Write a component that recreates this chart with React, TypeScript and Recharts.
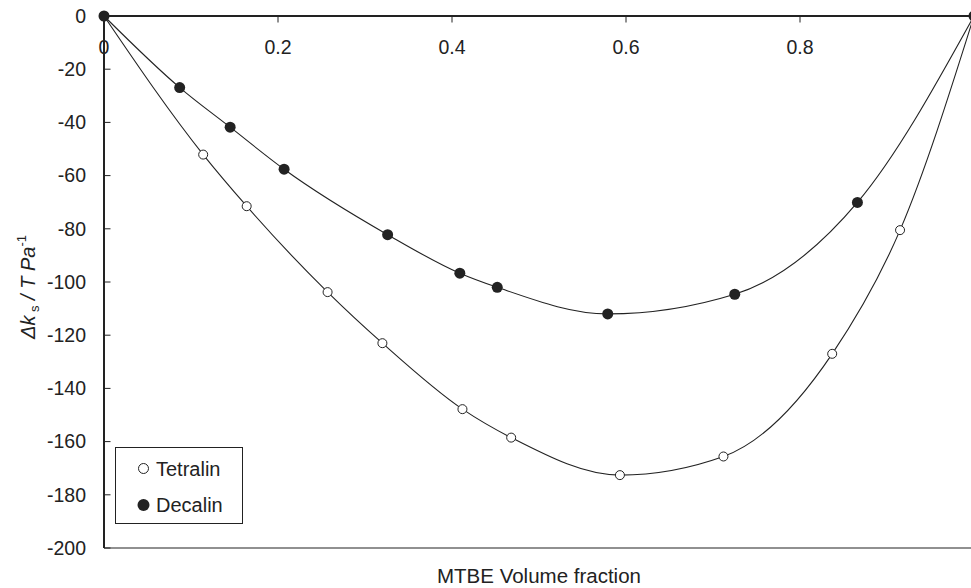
import React from 'react';
import { ComposedChart, Line, XAxis, YAxis } from 'recharts';

// MTBE volume fraction vs deviation in isentropic compressibility
const tetralinX = [0, 0.114, 0.164, 0.257, 0.32, 0.412, 0.468, 0.593, 0.712, 0.837, 0.915, 1];
const tetralinY = [0, -52.1, -71.5, -103.8, -123.0, -147.8, -158.5, -172.6, -165.6, -127.0, -80.5, 0];

const decalinX = [0, 0.087, 0.145, 0.207, 0.326, 0.409, 0.452, 0.579, 0.725, 0.866, 1];
const decalinY = [0, -26.9, -41.8, -57.6, -82.2, -96.7, -102.0, -112.0, -104.6, -70.1, 0];

const xTicks = [0, 0.2, 0.4, 0.6, 0.8];
const yTicks = [0, -20, -40, -60, -80, -100, -120, -140, -160, -180, -200];

const tetralin = tetralinX.map((x, i) => ({ x, y: tetralinY[i] }));
const decalin = decalinX.map((x, i) => ({ x, y: decalinY[i] }));

const INK = '#222';
const FONT = 'Arial, "Liberation Sans", sans-serif';

const TopTick = (props: any) => {
  const { x, y, payload } = props;
  return (
    <g>
      <line x1={x} y1={y} x2={x} y2={y + 6.5} stroke={INK} strokeWidth={1} />
      <text x={x} y={y + 31} dy="0.35em" textAnchor="middle" fontSize={19.5} fill={INK} fontFamily={FONT}>
        {payload.value}
      </text>
    </g>
  );
};

const LeftTick = (props: any) => {
  const { x, y, payload } = props;
  return (
    <g>
      <line x1={x} y1={y} x2={x + 6.5} y2={y} stroke={INK} strokeWidth={1} />
      <text x={x - 18} y={y} dy="0.35em" textAnchor="end" fontSize={19.5} fill={INK} fontFamily={FONT}>
        {payload.value}
      </text>
    </g>
  );
};

const YTitle = () => (
  <text
    x={35}
    y={287}
    transform="rotate(-90, 35, 287)"
    textAnchor="middle"
    fontSize={20}
    fill={INK}
    fontFamily={FONT}
  >
    <tspan fontStyle="italic">Δk</tspan>
    <tspan fontSize={13} dy={4}> s</tspan>
    <tspan fontStyle="italic" dy={-4}> / T Pa</tspan>
    <tspan fontSize={13} dy={-9}>-1</tspan>
  </text>
);

const LegendBox = () => (
  <div
    style={{
      position: 'absolute',
      left: 115,
      top: 447,
      width: 126,
      height: 75,
      border: `1px solid ${INK}`,
      background: '#fff',
      fontFamily: FONT,
      fontSize: 20,
      color: INK,
    }}
  >
    <svg width={126} height={75} style={{ position: 'absolute', left: 0, top: 0 }}>
      <circle cx={27.5} cy={20.5} r={5} fill="#fff" stroke={INK} strokeWidth={1} />
      <circle cx={27.5} cy={57} r={6} fill={INK} />
    </svg>
    <div style={{ position: 'absolute', left: 40, top: 20.5, transform: 'translateY(-50%)', lineHeight: 1 }}>Tetralin</div>
    <div style={{ position: 'absolute', left: 40, top: 57, transform: 'translateY(-50%)', lineHeight: 1 }}>Decalin</div>
  </div>
);

export default function App() {
  return (
    <div style={{ position: 'absolute', left: 0, top: 0, width: 971, height: 588, overflow: 'hidden', background: '#fff' }}>
      <ComposedChart width={976} height={588} margin={{ top: 15, right: 2, left: 0, bottom: 0 }}>
        <XAxis
          xAxisId="top"
          orientation="top"
          type="number"
          dataKey="x"
          domain={[0, 1]}
          ticks={xTicks}
          height={1}
          tickSize={0}
          tickMargin={0}
          tickLine={false}
          tick={<TopTick />}
          axisLine={{ stroke: INK, strokeWidth: 2 }}
          allowDuplicatedCategory={false}
        />
        <XAxis
          xAxisId="bottom"
          orientation="bottom"
          type="number"
          dataKey="x"
          domain={[0, 1]}
          height={40}
          tick={false}
          tickLine={false}
          axisLine={{ stroke: INK, strokeWidth: 1.2 }}
          label={{
            value: 'MTBE Volume fraction',
            position: 'insideBottom',
            offset: 5,
            fontSize: 20.5,
            fill: INK,
            fontFamily: FONT,
          }}
        />
        <YAxis
          type="number"
          domain={[-200, 0]}
          ticks={yTicks}
          width={104}
          tickSize={0}
          tickMargin={0}
          tickLine={false}
          tick={<LeftTick />}
          axisLine={{ stroke: INK, strokeWidth: 2 }}
          label={{ content: () => <YTitle /> }}
        />
        <Line
          xAxisId="top"
          data={tetralin}
          dataKey="y"
          type="monotone"
          stroke={INK}
          strokeWidth={1.1}
          dot={{ r: 4.5, fill: '#fff', stroke: INK, strokeWidth: 1 }}
          activeDot={false}
          isAnimationActive={false}
          name="Tetralin"
        />
        <Line
          xAxisId="top"
          data={decalin}
          dataKey="y"
          type="monotone"
          stroke={INK}
          strokeWidth={1.1}
          dot={{ r: 5.5, fill: INK, stroke: INK, strokeWidth: 0 }}
          activeDot={false}
          isAnimationActive={false}
          name="Decalin"
        />
      </ComposedChart>
      <LegendBox />
    </div>
  );
}
